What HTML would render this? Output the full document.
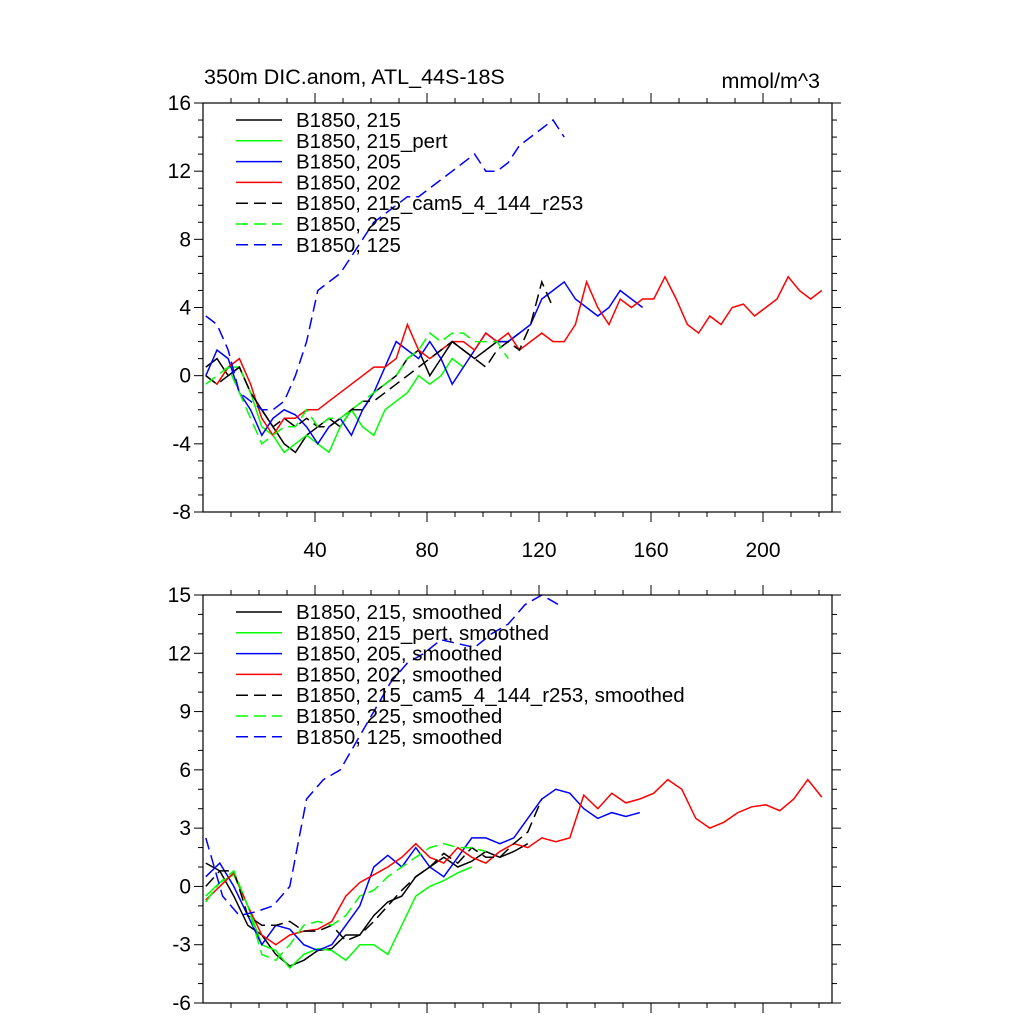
<!DOCTYPE html>
<html><head><meta charset="utf-8"><style>
body{margin:0;background:#fff}
svg text{font-family:"Liberation Sans",sans-serif;fill:#000}
</style></head><body>
<svg id="c" width="1024" height="1024" viewBox="0 0 1024 1024" xmlns="http://www.w3.org/2000/svg"></svg>
<script>
// ---- data (top: raw, step 4 from t=1; bottom: smoothed, step 5 from t=1) ----
const topBlack=[0.5,1,0,0.5,-1,-2,-3,-4,-4.5,-3.5,-3,-2.5,-3,-2,-2,-1,-0.5,0,1,1.5,0,1,2,1.5,1,1.5,2,2,2.5];
const topGreen=[0,-0.5,0.5,0.5,-1,-3,-3.5,-4.5,-4,-3.5,-4,-4.5,-3,-2,-3,-3.5,-2,-1.5,-1,0,-0.5,0,1,0.5];
const topBlue=[0,1.5,1,-1,-2,-3.5,-2.5,-2,-2.3,-3,-4,-3,-2.5,-3.5,-2,-1,0.5,2,1.5,1,2,1,-0.5,0.5,1.5,2.5,2,2,2.5,3,4.5,5,5.5,4.5,4,3.5,4,5,4.5,4];
const topRed=[0,-0.5,0.5,1,-0.5,-2.5,-3.5,-2.5,-2.5,-2,-2,-1.5,-1,-0.5,0,0.5,0.5,1,3,1.5,1,1.5,2,2,1.5,2.5,2,2.5,1.5,2,2.5,2,2,3,5.5,4,3,4.5,4,4.5,4.5,5.8,4.5,3,2.5,3.5,3,4,4.2,3.5,4,4.5,5.8,5,4.5,5];
const topBlackD=[0,-0.5,0,0.5,-1,-2,-3,-2.5,-3,-2.5,-3,-3,-2.5,-2,-1.5,-1.5,-1,-0.5,0,0.5,1,1.5,2,1.5,1,0.5,1.5,2,1.5,3,5.5,4];
const topGreenD=[-0.5,0,0.5,-1,-2.5,-4,-3.5,-3,-3,-2,-3,-2.5,-2.5,-2,-1.5,-1,-0.5,0,1,1.5,2.5,2,2.5,2.5,2,2,2,1];
const topBlueD=[3.5,3,1.5,-1,-1.5,-2,-2,-1.5,0,2,5,5.5,6,7,8,9,9.5,10,10.5,10.5,11,11.5,12,12.5,13,12,12,12.5,13.5,14,14.5,15,14];
const botBlack=[1.2,0.8,-0.5,-2,-2.5,-3.5,-4.1,-3.8,-3.3,-3.2,-2.5,-2.5,-1.5,-0.8,-0.5,0.5,1,1.5,1,1.3,1.8,1.5,1.8,2.2];
const botGreen=[-0.5,0.2,0.6,-1,-3,-3.3,-4.2,-3.5,-3.2,-3.3,-3.8,-3,-3,-3.5,-2,-0.5,0,0.3,0.7,1];
const botBlue=[0.5,1.2,0,-1.5,-3,-2,-2.2,-3,-3.3,-3,-2,-1,1,1.6,1,2,1,0.5,1.5,2.5,2.5,2.2,2.5,3.5,4.5,5,4.8,4,3.5,3.8,3.6,3.8];
const botRed=[-0.7,0,0.7,-1,-2.5,-3,-2.5,-2.3,-2.2,-1.8,-0.5,0.2,0.6,1,1.5,2.2,1.5,1.2,2,1.5,1.2,1.8,2.2,2,2.5,2.3,2.5,4.7,4,4.8,4.3,4.5,4.8,5.5,5,3.5,3,3.3,3.8,4.1,4.2,3.9,4.5,5.5,4.6];
const botBlackD=[0,0.8,0.8,-1.5,-2,-2,-1.8,-2.3,-2.3,-2,-2.8,-2.5,-1.8,-1,-0.2,0.5,1,1.7,1.2,2,1.5,1.5,2.2,2.8,4.5];
const botGreenD=[-0.8,0.2,0.8,-1,-3.5,-3.8,-3,-2,-1.8,-2,-1.5,-0.5,-0.2,0.5,1,1.5,2,2.2,2,2,1.8];
const botBlueD=[2.5,-0.5,-1.5,-1.3,-1,0,4.5,5.5,6,7.5,9,10.5,11.5,12,12.7,12.5,12.3,13,13.5,14.5,15,14.5];
const xTicks=[40,80,120,160,200];
const topYTicks=[-8,-4,0,4,8,12,16];
const botYTicks=[-6,-3,0,3,6,9,12,15];
const topNames=["B1850, 215","B1850, 215_pert","B1850, 205","B1850, 202","B1850, 215_cam5_4_144_r253","B1850, 225","B1850, 125"];
const botNames=topNames.map(s=>s+", smoothed");

const NS="http://www.w3.org/2000/svg", svg=document.getElementById('c');
function el(tag,attrs,parent){const e=document.createElementNS(NS,tag);for(const k in attrs)e.setAttribute(k,attrs[k]);(parent||svg).appendChild(e);return e;}
const X0=203,X1=832,XMAX=(X1-X0)/2.8;
const sx=t=>X0+t*2.8;

function panel(pid,yTop,yBot,ymin,ymax,yticks,minorStep,series,names,legY){
  const g=el('g',{});
  
  
  const sy=v=>yBot-(v-ymin)/(ymax-ymin)*(yBot-yTop);
  series.forEach(s=>{
    const pts=s.data.map((v,i)=>sx(s.t0+i*s.step).toFixed(1)+','+sy(v).toFixed(1)).join(' ');
    const p=el('polyline',{points:pts,fill:'none',stroke:s.color,'stroke-width':1.5,'stroke-dasharray':s.dash?'12,6':'none'},g);
    
    
  });
  const fr=el('rect',{x:X0,y:yTop,width:X1-X0,height:yBot-yTop,fill:'none',stroke:'#000','stroke-width':1.2},g);
  
  
  for(let v=ymin;v<=ymax+1e-6;v+=minorStep){
    const major=yticks.includes(v);const L=major?9:5;const y=sy(v);
    el('line',{x1:X0,x2:X0-L,y1:y,y2:y,stroke:'#000','stroke-width':1},g);
    el('line',{x1:X1,x2:X1+L,y1:y,y2:y,stroke:'#000','stroke-width':1},g);
  }
  yticks.forEach(v=>{
    const t=el('text',{x:X0-12,y:sy(v)+7,'text-anchor':'end','font-size':21},g);
    t.textContent=v;
    
    
  });
  for(let v=10;v<XMAX;v+=10){
    const major=xTicks.includes(v);const L=major?10:5;const x=sx(v);
    el('line',{x1:x,x2:x,y1:yBot,y2:yBot+L,stroke:'#000','stroke-width':1},g);
    el('line',{x1:x,x2:x,y1:yTop,y2:yTop-L,stroke:'#000','stroke-width':1},g);
  }
  if(pid==='top') xTicks.forEach(v=>{
    const t=el('text',{x:sx(v),y:yBot+45,'text-anchor':'middle','font-size':21},g);
    t.textContent=v;
    
    
  });
  series.forEach((s,i)=>{
    const y=legY+i*20.8;
    const l=el('line',{x1:236,x2:282,y1:y,y2:y,stroke:s.color,'stroke-width':1.5,'stroke-dasharray':s.dash?'12,6':'none'},g);
    
    
    const t=el('text',{x:296,y:y+7,'font-size':20.5},g);
    t.textContent=names[i];
    
    
  });
}
panel('top',103,512,-8,16,topYTicks,1,[
  {key:'215',data:topBlack,color:'#000',t0:1,step:4},
  {key:'215-pert',data:topGreen,color:'#00ff00',t0:1,step:4},
  {key:'205',data:topBlue,color:'#0000ff',t0:1,step:4},
  {key:'202',data:topRed,color:'#ff0000',t0:1,step:4},
  {key:'cam5',data:topBlackD,color:'#000',t0:1,step:4,dash:1},
  {key:'225',data:topGreenD,color:'#00ff00',t0:1,step:4,dash:1},
  {key:'125',data:topBlueD,color:'#0000ff',t0:1,step:4,dash:1}
],topNames,120);
panel('bottom',595,1003,-6,15,botYTicks,1,[
  {key:'215',data:botBlack,color:'#000',t0:1,step:5},
  {key:'215-pert',data:botGreen,color:'#00ff00',t0:1,step:5},
  {key:'205',data:botBlue,color:'#0000ff',t0:1,step:5},
  {key:'202',data:botRed,color:'#ff0000',t0:1,step:5},
  {key:'cam5',data:botBlackD,color:'#000',t0:1,step:5,dash:1},
  {key:'225',data:botGreenD,color:'#00ff00',t0:1,step:5,dash:1},
  {key:'125',data:botBlueD,color:'#0000ff',t0:1,step:6,dash:1}
],botNames,612);
const t1=el('text',{x:204,y:84,'font-size':21.5});t1.textContent='350m DIC.anom, ATL_44S-18S';


const t2=el('text',{x:820,y:88,'font-size':21.5,'text-anchor':'end'});t2.textContent='mmol/m^3';


</script>
</body></html>
